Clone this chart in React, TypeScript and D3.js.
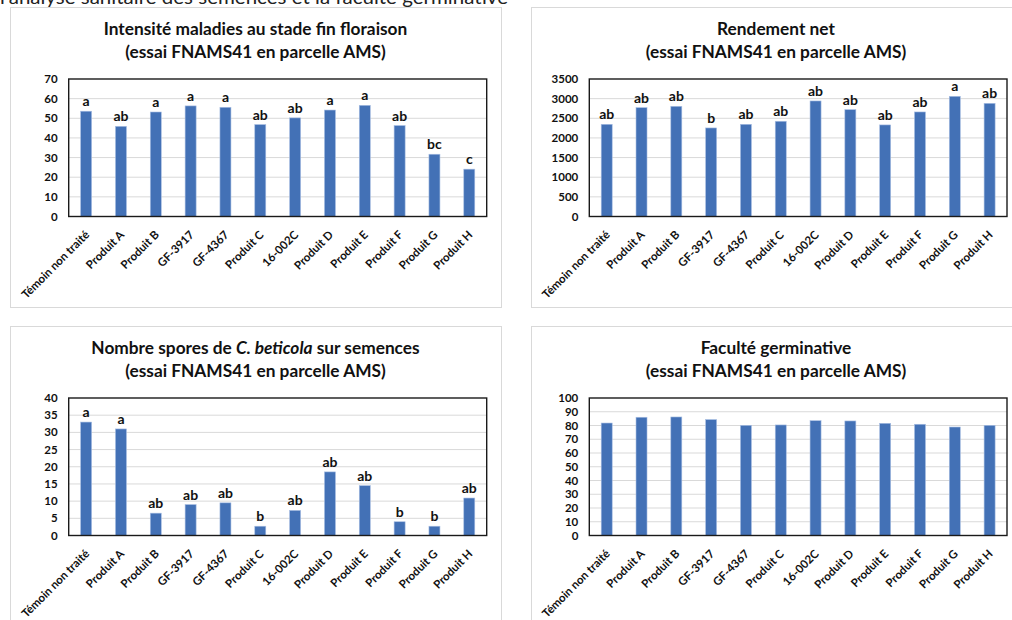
import React from "react";
import * as d3 from "d3";

// Treatments, shared by all four panels
const categories = [
  "Témoin non traité",
  "Produit A",
  "Produit B",
  "GF-3917",
  "GF-4367",
  "Produit C",
  "16-002C",
  "Produit D",
  "Produit E",
  "Produit F",
  "Produit G",
  "Produit H",
];

// Disease intensity at end of flowering
const intensite = [53.6, 45.9, 53.2, 56.3, 55.6, 46.8, 50.2, 54.2, 56.6, 46.3, 31.7, 24.1];
const intensiteGroups = ["a", "ab", "a", "a", "a", "ab", "ab", "a", "a", "ab", "bc", "c"];
const intensiteTicks = [0, 10, 20, 30, 40, 50, 60, 70];

// Net yield
const rendement = [2347, 2771, 2805, 2254, 2347, 2424, 2941, 2720, 2331, 2661, 3059, 2881];
const rendementGroups = ["ab", "ab", "ab", "b", "ab", "ab", "ab", "ab", "ab", "ab", "a", "ab"];
const rendementTicks = [0, 500, 1000, 1500, 2000, 2500, 3000, 3500];

// C. beticola spores on seeds
const spores = [33.0, 31.0, 6.5, 9.0, 9.5, 2.7, 7.3, 18.5, 14.5, 4.0, 2.7, 10.9];
const sporesGroups = ["a", "a", "ab", "ab", "ab", "b", "ab", "ab", "ab", "b", "b", "ab"];
const sporesTicks = [0, 5, 10, 15, 20, 25, 30, 35, 40];

// Germination rate
const germination = [81.8, 86.0, 86.2, 84.3, 80.1, 80.4, 83.5, 83.3, 81.6, 80.9, 78.9, 80.1];
const germinationTicks = [0, 10, 20, 30, 40, 50, 60, 70, 80, 90, 100];

const subtitle = "(essai FNAMS41 en parcelle AMS)";

const FONT = "Lato, 'Open Sans', 'Liberation Sans', sans-serif";
const BAR = "#4371B6";

type TitlePart = { text: string; italic?: boolean };

type PanelProps = {
  px: number;
  py: number;
  pw: number;
  title: TitlePart[];
  values: number[];
  groups?: string[];
  ticks: number[];
  plotLeft: number;
  plotRight: number;
};

function Panel({ px, py, pw, title, values, groups, ticks, plotLeft, plotRight }: PanelProps) {
  const top = py + 72;
  const bottom = py + 209.5;
  const x = d3
    .scaleBand<string>()
    .domain(categories)
    .range([plotLeft, plotRight])
    .paddingInner(0.684)
    .paddingOuter(0.342);
  const y = d3
    .scaleLinear()
    .domain([0, ticks[ticks.length - 1]])
    .range([bottom, top]);
  const cx = px + pw / 2;

  return (
    <g>
      <rect x={px + 0.5} y={py + 0.5} width={pw} height={300} fill="#fff" stroke="#D9D9D9" />
      <text x={cx} y={py + 27.5} textAnchor="middle" fontFamily={FONT} fontWeight={700} fontSize={17.3} fill="#111">
        {title.map((t, i) => (
          <tspan key={i} fontStyle={t.italic ? "italic" : "normal"}>
            {t.text}
          </tspan>
        ))}
      </text>
      <text x={cx} y={py + 50.5} textAnchor="middle" fontFamily={FONT} fontWeight={700} fontSize={17.3} fill="#111">
        {subtitle}
      </text>

      {ticks.map((t) => (
        <g key={t}>
          {t > 0 && t < ticks[ticks.length - 1] && (
            <line x1={plotLeft} x2={plotRight} y1={y(t)} y2={y(t)} stroke="#D9D9D9" strokeWidth={1} />
          )}
          <text
            x={plotLeft - 11}
            y={y(t)}
            dy="0.35em"
            textAnchor="end"
            fontFamily={FONT}
            fontWeight={700}
            fontSize={11.5}
            fill="#111"
          >
            {t}
          </text>
        </g>
      ))}

      {values.map((v, i) => {
        const c = categories[i];
        const bx = x(c) as number;
        return (
          <g key={c}>
            <rect
              x={bx}
              y={y(v)}
              width={x.bandwidth()}
              height={bottom - y(v)}
              fill={BAR}
              stroke="#A8BEE3"
              strokeWidth={0.6}
            />
            {groups && (
              <text
                x={bx + x.bandwidth() / 2}
                y={y(v) - 5}
                textAnchor="middle"
                fontFamily={FONT}
                fontWeight={700}
                fontSize={14}
                fill="#111"
              >
                {groups[i]}
              </text>
            )}
            <text
              transform={`translate(${bx + x.bandwidth() / 2 + 4},${bottom + 19}) rotate(-45)`}
              textAnchor="end"
              fontFamily={FONT}
              fontWeight={700}
              fontSize={11.5}
              fill="#111"
            >
              {c}
            </text>
          </g>
        );
      })}

      <rect
        x={plotLeft}
        y={top}
        width={plotRight - plotLeft}
        height={bottom - top}
        fill="none"
        stroke="#1a1a1a"
        strokeWidth={1.4}
      />
    </g>
  );
}

export default function App() {
  return (
    <svg
      width={1012}
      height={620}
      viewBox="0 0 1012 620"
      style={{ position: "absolute", left: 0, top: 0, background: "#fff" }}
    >
      <rect width={1012} height={620} fill="#fff" />
      <text x={0} y={4} fontFamily={FONT} fontSize={20} fill="#222" textLength={508} lengthAdjust="spacingAndGlyphs">
        l'analyse sanitaire des semences et la faculté germinative
      </text>
      <Panel
        px={10}
        py={7}
        pw={491}
        title={[{ text: "Intensité maladies au stade fin floraison" }]}
        values={intensite}
        groups={intensiteGroups}
        ticks={intensiteTicks}
        plotLeft={68.7}
        plotRight={486.7}
      />
      <Panel
        px={531}
        py={7}
        pw={490}
        title={[{ text: "Rendement net" }]}
        values={rendement}
        groups={rendementGroups}
        ticks={rendementTicks}
        plotLeft={589.3}
        plotRight={1007}
      />
      <Panel
        px={10}
        py={326}
        pw={491}
        title={[
          { text: "Nombre spores de " },
          { text: "C. beticola", italic: true },
          { text: " sur semences" },
        ]}
        values={spores}
        groups={sporesGroups}
        ticks={sporesTicks}
        plotLeft={68.7}
        plotRight={486.7}
      />
      <Panel
        px={531}
        py={326}
        pw={490}
        title={[{ text: "Faculté germinative" }]}
        values={germination}
        ticks={germinationTicks}
        plotLeft={589.3}
        plotRight={1007}
      />
    </svg>
  );
}
